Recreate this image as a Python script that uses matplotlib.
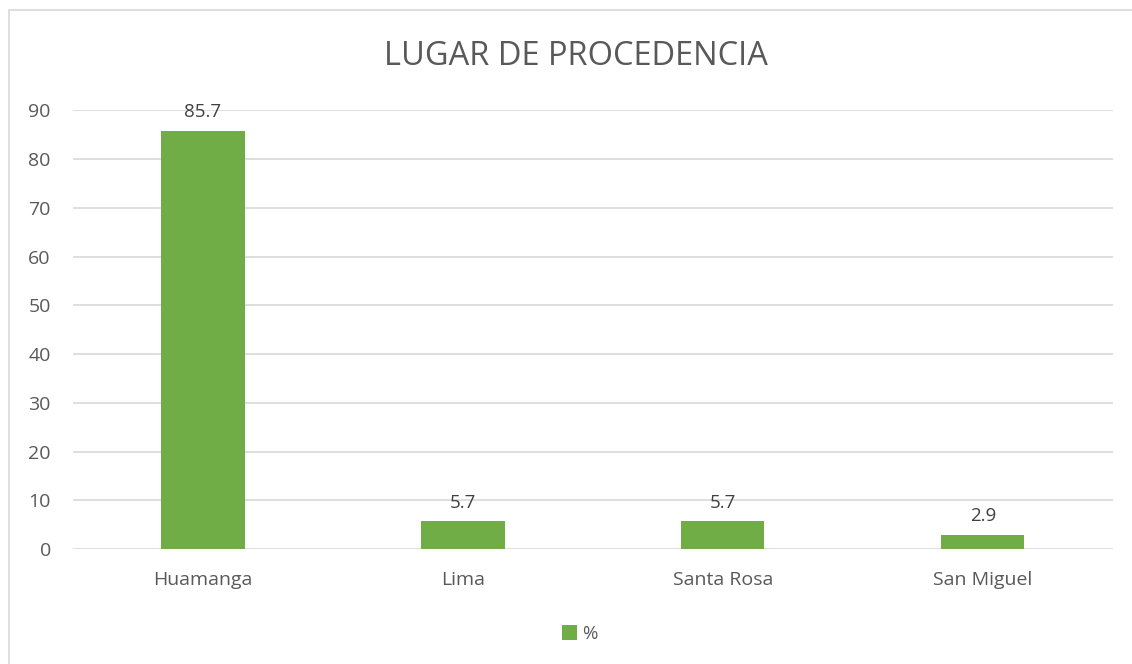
import matplotlib.pyplot as plt
from matplotlib.patches import Rectangle

categorias = ['Huamanga', 'Lima', 'Santa Rosa', 'San Miguel']
porcentajes = [85.7, 5.7, 5.7, 2.9]
yticks = [0, 10, 20, 30, 40, 50, 60, 70, 80, 90]

verde = '#70AD47'
gris_texto = '#595959'
gris_linea = '#D9D9D9'

plt.rcParams['font.family'] = ['Open Sans', 'DejaVu Sans']

fig = plt.figure(figsize=(11.32, 6.64), dpi=100)
ax = fig.add_axes([0.0645, 0.173, 0.9185, 0.661])

# marco del grafico
fig.patches.append(Rectangle((9 / 1132, -0.01), 1.0, 1 - 10 / 664 + 0.01, transform=fig.transFigure,
                             fill=False, edgecolor=gris_linea, linewidth=1.2))

x = list(range(len(categorias)))
barras = ax.bar(x, porcentajes, width=0.32, color=verde, label='%', zorder=3)
for xi, v in zip(x, porcentajes):
    ax.text(xi, v + 2.0, '{:.1f}'.format(v), ha='center', va='bottom',
            fontsize=13.5, color='#404040')

ax.set_xlim(-0.5, len(categorias) - 0.5)
ax.set_ylim(0, 90)
ax.set_yticks(yticks)
ax.set_xticks(x)
ax.set_xticklabels(categorias)
ax.tick_params(axis='both', length=0, labelsize=14, colors=gris_texto)
ax.tick_params(axis='y', pad=16)
ax.tick_params(axis='x', pad=16)
ax.grid(axis='y', color=gris_linea, linewidth=1.2, zorder=0)
for s in ax.spines.values():
    s.set_visible(False)

fig.text(0.509, 0.915, 'LUGAR DE PROCEDENCIA', ha='center', va='center',
         fontsize=23.5, color=gris_texto)

fig.legend(handles=[barras], labels=['%'], loc='center', bbox_to_anchor=(0.512, 0.045),
           frameon=False, fontsize=13.5, handlelength=0.8, handleheight=0.8,
           handletextpad=0.3, labelcolor=gris_texto)

plt.savefig('out.png')
plt.close()
